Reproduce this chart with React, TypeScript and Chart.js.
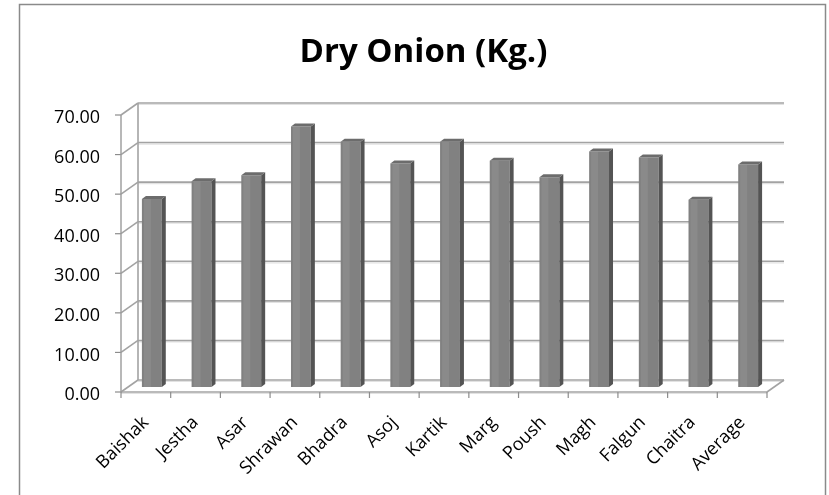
import React, { useEffect, useRef } from "react";
import { Chart, registerables } from "chart.js";

Chart.register(...registerables);

const categories = ["Baishak", "Jestha", "Asar", "Shrawan", "Bhadra", "Asoj", "Kartik", "Marg", "Poush", "Magh", "Falgun", "Chaitra", "Average"];
const values = [47.5, 52.0, 53.5, 65.8, 62.0, 56.5, 62.0, 57.2, 53.0, 59.5, 58.0, 47.3, 56.2];
const yTicks = [0, 10, 20, 30, 40, 50, 60, 70];
const chartTitle = "Dry Onion (Kg.)";

const FRONT = { dx: -6, dy: 5 };
const BACK = { dx: 11, dy: -7 };
const BAR_DEPTH = { dx: 4, dy: -3 };

const threeDPlugin = {
  id: "threeD",
  beforeDraw(chart: any) {
    const { ctx, width, height } = chart;
    ctx.save();
    ctx.fillStyle = "#ffffff";
    ctx.fillRect(0, 0, width, height);
    ctx.strokeStyle = "#8a8a8a";
    ctx.lineWidth = 1.5;
    ctx.strokeRect(19.5, 4.5, 806, height + 20);
    ctx.fillStyle = "#000000";
    ctx.font = "bold 33px 'Open Sans', sans-serif";
    ctx.textAlign = "center";
    ctx.textBaseline = "alphabetic";
    ctx.fillText(chartTitle, 423.5, 62);
    ctx.restore();
  },
  beforeDatasetsDraw(chart: any) {
    const { ctx, chartArea: ca, scales } = chart;
    const ys = scales.y;
    const line = (x1: number, y1: number, x2: number, y2: number, color = "#a3a3a3", w = 1.6) => {
      ctx.strokeStyle = color;
      ctx.lineWidth = w;
      ctx.beginPath();
      ctx.moveTo(x1, y1);
      ctx.lineTo(x2, y2);
      ctx.stroke();
    };
    ctx.save();
    const y0 = ys.getPixelForValue(yTicks[0]);
    const yTop = ys.getPixelForValue(yTicks[yTicks.length - 1]);
    yTicks.forEach((v) => {
      const py = ys.getPixelForValue(v);
      line(ca.left + BACK.dx, py + BACK.dy + 1.5, ca.right + BACK.dx, py + BACK.dy + 1.5, "#e2e2e2", 1.2);
      line(ca.left + BACK.dx, py + BACK.dy, ca.right + BACK.dx, py + BACK.dy);
      line(ca.left + FRONT.dx, py + FRONT.dy, ca.left + BACK.dx, py + BACK.dy);
      line(ca.left + FRONT.dx - 6, py + FRONT.dy, ca.left + FRONT.dx, py + FRONT.dy, "#8c8c8c", 1.2);
    });
    line(ca.left + BACK.dx, y0 + BACK.dy, ca.left + BACK.dx, yTop + BACK.dy);
    line(ca.left + FRONT.dx, y0 + FRONT.dy + 1.5, ca.right + FRONT.dx, y0 + FRONT.dy + 1.5, "#e2e2e2", 1.2);
    line(ca.left + FRONT.dx, y0 + FRONT.dy, ca.right + FRONT.dx, y0 + FRONT.dy);
    line(ca.right + FRONT.dx, y0 + FRONT.dy, ca.right + BACK.dx, y0 + BACK.dy);
    line(ca.left + FRONT.dx, y0 + FRONT.dy, ca.left + FRONT.dx, yTop + FRONT.dy, "#9a9a9a", 1.4);
    const n = categories.length;
    const step = (ca.right - ca.left) / n;
    for (let k = 0; k <= n; k++) {
      const px = ca.left + k * step + FRONT.dx;
      line(px, y0 + FRONT.dy, px, y0 + FRONT.dy + 6, "#8c8c8c", 1.2);
    }
    ctx.restore();
  },
  afterDatasetsDraw(chart: any) {
    const { ctx } = chart;
    const meta = chart.getDatasetMeta(0);
    ctx.save();
    meta.data.forEach((bar: any) => {
      const { x, y, base, width } = bar.getProps(["x", "y", "base", "width"], true);
      const l = x - width / 2;
      const r = x + width / 2;
      ctx.fillStyle = "rgba(255,255,255,0.08)";
      ctx.fillRect(l + 2, y, width * 0.35, base - y);
      ctx.fillStyle = "#545454";
      ctx.beginPath();
      ctx.moveTo(r, y);
      ctx.lineTo(r + BAR_DEPTH.dx, y + BAR_DEPTH.dy);
      ctx.lineTo(r + BAR_DEPTH.dx, base + BAR_DEPTH.dy);
      ctx.lineTo(r, base);
      ctx.closePath();
      ctx.fill();
      ctx.fillStyle = "#6c6c6c";
      ctx.beginPath();
      ctx.moveTo(l, y);
      ctx.lineTo(l + BAR_DEPTH.dx, y + BAR_DEPTH.dy);
      ctx.lineTo(r + BAR_DEPTH.dx, y + BAR_DEPTH.dy);
      ctx.lineTo(r, y);
      ctx.closePath();
      ctx.fill();
    });
    ctx.restore();
  },
};

export default function App() {
  const canvasRef = useRef<HTMLCanvasElement | null>(null);

  useEffect(() => {
    const canvas = canvasRef.current;
    if (!canvas) return;
    const chart = new Chart(canvas, {
      type: "bar",
      data: {
        labels: categories,
        datasets: [
          {
            data: values,
            backgroundColor: "#818181",
            borderWidth: 0,
            barPercentage: 0.4,
            categoryPercentage: 1,
          },
        ],
      },
      options: {
        animation: false,
        responsive: false,
        devicePixelRatio: 1,
        layout: { padding: { left: 0, right: 56, top: 110, bottom: 0 } },
        plugins: {
          legend: { display: false },
          tooltip: { enabled: false },
          title: { display: false },
        },
        scales: {
          x: {
            grid: { display: false, drawTicks: false },
            border: { display: false },
            ticks: {
              autoSkip: false,
              minRotation: 45,
              maxRotation: 45,
              padding: 25,
              labelOffset: -6,
              color: "#000000",
              font: { family: "'Open Sans', sans-serif", size: 18 },
            },
            afterFit: (s: any) => {
              s.height = 108;
            },
          },
          y: {
            min: 0,
            max: 70,
            grid: { display: false, drawTicks: false },
            border: { display: false },
            ticks: {
              stepSize: 10,
              padding: 27,
              labelOffset: 8,
              color: "#000000",
              font: { family: "'Open Sans', sans-serif", size: 18 },
              callback: (v: any) => Number(v).toFixed(2),
            },
            afterFit: (s: any) => {
              s.width = 127;
            },
          },
        },
      },
      plugins: [threeDPlugin],
    });
    return () => chart.destroy();
  }, []);

  return (
    <div style={{ position: "absolute", left: 0, top: 0, width: 829, height: 495 }}>
      <canvas ref={canvasRef} width={829} height={495} />
    </div>
  );
}
